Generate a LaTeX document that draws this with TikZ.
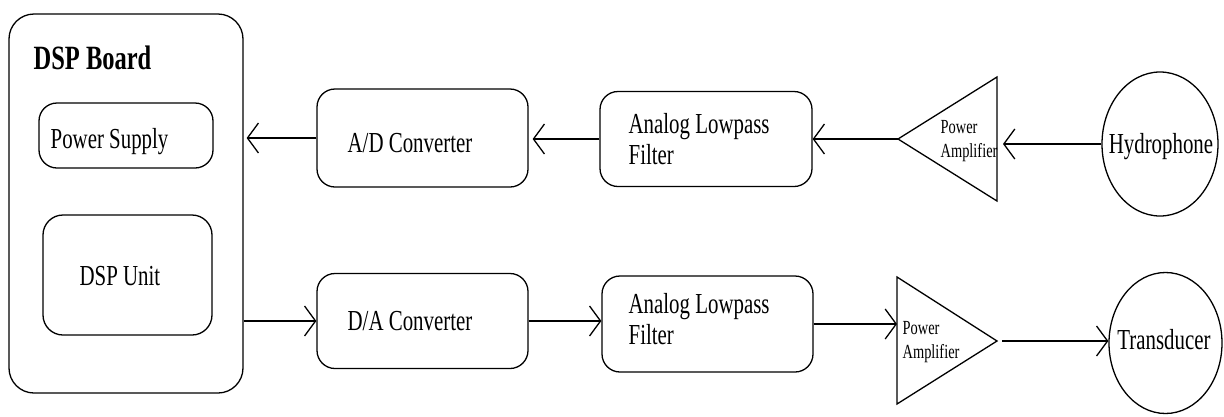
\documentclass[tikz,border=0pt]{standalone}
\usepackage{fontspec}
\setmainfont{Liberation Serif}
\usepackage{graphicx}
\usetikzlibrary{arrows.meta,shapes.geometric}
% condensed lettering used throughout the block diagram
\newcommand{\narrowtext}[1]{\scalebox{0.72}[1]{#1}}

\begin{document}
\begin{tikzpicture}[x=1pt,y=-1pt,
  line width=1.3pt,
  box/.style={draw, rounded corners=18pt, inner sep=0pt},
  lbl/.style={inner sep=0pt, anchor=west, align=left, font=\fontsize{29}{31}\selectfont},
  small/.style={inner sep=0pt, anchor=west, align=left, font=\fontsize{20}{24}\selectfont},
  disc/.style={draw, ellipse, inner sep=0pt},
  arr/.style={-{Straight Barb[length=11pt,width=30pt]}}]

\useasboundingbox (0,0) rectangle (1224,416);

% DSP board with its two sub-blocks
\node[box, rounded corners=25pt, minimum width=234pt, minimum height=379pt] (board) at (126,203.5) {};
\node[lbl, font=\fontsize{34}{36}\selectfont\bfseries] (boardtxt) at (33,58) {\narrowtext{DSP Board}};
\node[box, minimum width=174pt, minimum height=65pt] (psu) at (126,135.5) {};
\node[lbl] (psutxt) at (50,142) {\narrowtext{Power Supply}};
\node[box, rounded corners=20pt, minimum width=169pt, minimum height=120pt] (unit) at (127.5,275) {};
\node[lbl] (unittxt) at (79,276) {\narrowtext{DSP Unit}};

% receive chain
\node[box, minimum width=211pt, minimum height=98pt] (ad) at (422.5,138) {};
\node[lbl] (adtxt) at (347,143) {\narrowtext{A/D Converter}};
\node[box, minimum width=212pt, minimum height=95pt] (lp1) at (706,139) {};
\node[lbl] (lp1txt) at (628,143) {\narrowtext{\begin{tabular}{@{}l@{}}Analog Lowpass\\Filter\end{tabular}}};
\coordinate (pa1tip) at (898,139);
\coordinate (pa1top) at (997,77);
\coordinate (pa1bot) at (997,201);
\draw (pa1tip) -- (pa1top) -- (pa1bot) -- cycle;
\node[small] (pa1txt) at (940,141) {\narrowtext{\begin{tabular}{@{}l@{}}Power\\Amplifier\end{tabular}}};
\node[disc, minimum width=116pt, minimum height=144pt] (hydro) at (1160,144) {};
\node[inner sep=0pt, font=\fontsize{29}{31}\selectfont] (hydrotxt) at (1161,147) {\narrowtext{Hydrophone}};

% transmit chain
\node[box, minimum width=211pt, minimum height=95pt] (da) at (422.5,321) {};
\node[lbl] (datxt) at (347,321) {\narrowtext{D/A Converter}};
\node[box, minimum width=211pt, minimum height=96pt] (lp2) at (707.5,324) {};
\node[lbl] (lp2txt) at (628,323) {\narrowtext{\begin{tabular}{@{}l@{}}Analog Lowpass\\Filter\end{tabular}}};
\coordinate (pa2top) at (897,277);
\coordinate (pa2bot) at (897,404);
\coordinate (pa2tip) at (997,341);
\draw (pa2top) -- (pa2tip) -- (pa2bot) -- cycle;
\node[small] (pa2txt) at (902,342) {\narrowtext{\begin{tabular}{@{}l@{}}Power\\Amplifier\end{tabular}}};
\node[disc, minimum width=113pt, minimum height=141pt] (trans) at (1165.5,343) {};
\node[inner sep=0pt, font=\fontsize{29}{31}\selectfont] (transtxt) at (1164,340) {\narrowtext{Transducer}};

% signal flow
\draw[arr, shorten >=6pt] (hydro.west) -- (hydro.west -| pa1top);
\draw[arr] (pa1tip) -- (pa1tip -| lp1.east);
\draw[arr, shorten >=4pt] (lp1.west) -- (lp1.west -| ad.east);
\draw[arr, shorten >=3pt] (ad.west) -- (ad.west -| board.east);

\draw[arr] (board.east |- da.west) -- (da.west);
\draw[arr] (da.east) -- (da.east -| lp2.west);
\draw[arr] (lp2.east) -- (lp2.east -| pa2top);
\draw[arr, shorten <=5pt] (pa2tip) -- (pa2tip -| trans.west);
\end{tikzpicture}
\end{document}
